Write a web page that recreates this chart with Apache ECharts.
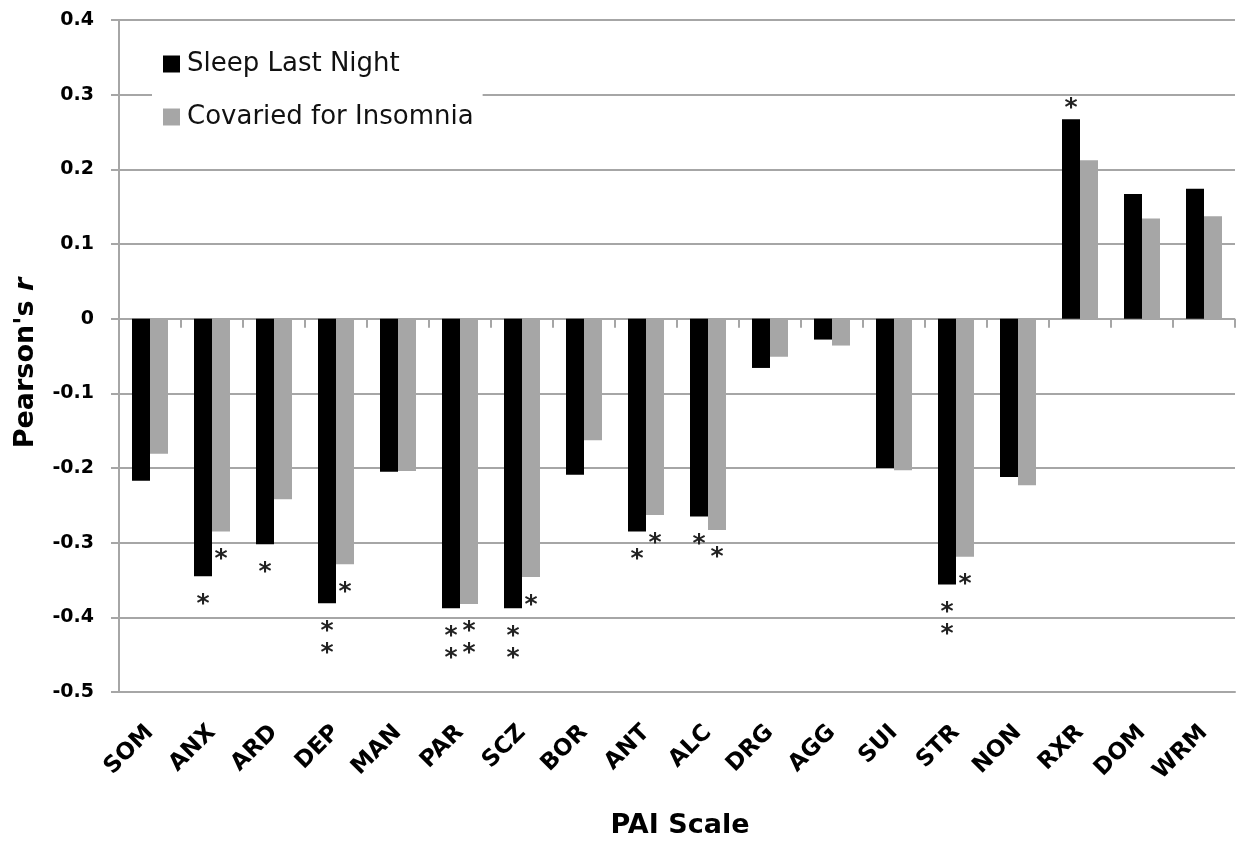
<!DOCTYPE html>
<html>
<head>
<meta charset="utf-8">
<style>
  html, body { margin: 0; padding: 0; background: #fff; }
  #chart { width: 1238px; height: 844px; }
</style>
<script src="https://cdn.jsdelivr.net/npm/echarts@6.0.0/dist/echarts.min.js"></script>
</head>
<body>
<div id="chart"></div>
<script>
// PAI scales
const categories = ["SOM", "ANX", "ARD", "DEP", "MAN", "PAR", "SCZ", "BOR", "ANT",
  "ALC", "DRG", "AGG", "SUI", "STR", "NON", "RXR", "DOM", "WRM"];
// Pearson's r values
const sleepLastNight = [-0.217, -0.345, -0.302, -0.381, -0.205, -0.388, -0.388, -0.209, -0.285,
  -0.265, -0.066, -0.028, -0.200, -0.356, -0.212, 0.267, 0.167, 0.174];
const covariedInsomnia = [-0.181, -0.285, -0.242, -0.329, -0.204, -0.382, -0.346, -0.163, -0.263,
  -0.283, -0.051, -0.036, -0.203, -0.319, -0.223, 0.212, 0.134, 0.137];
// significance stars
const sigSleep = ["", "*", "*", "**", "", "**", "**", "", "*", "*", "", "", "", "**", "", "*", "", ""];
const sigCovaried = ["", "*", "", "*", "", "**", "*", "", "*", "*", "", "", "", "*", "", "", "", ""];
const yTicks = [-0.5, 0.4, 0.1]; // min, max, step

const axisGrey = "#a6a6a6";
const font = "DejaVu Sans";

// stars go under negative bars, over positive ones
const withStars = (values) =>
  values.map((v) => ({
    value: v,
    label: { distance: v < 0 ? 17 : 0 },
  }));

const starLabel = (sig) => ({
  show: true,
  position: "outside",
  fontSize: 25,
  fontWeight: "bold",
  lineHeight: 22,
  color: "#222",
  fontFamily: font,
  formatter: function (p) {
    return sig[p.dataIndex].split("").join("\n");
  },
});

const option = {
  animation: false,
  backgroundColor: "#fff",
  grid: {
    left: 119,
    right: 3,
    top: 20,
    bottom: 152,
    containLabel: false,
    outerBoundsMode: "none",
  },
  legend: {
    orient: "vertical",
    left: 152,
    top: 39,
    padding: [10, 9, 10, 11],
    backgroundColor: "#fff",
    itemWidth: 17,
    itemHeight: 17,
    itemGap: 23,
    icon: "rect",
    textStyle: {
      fontFamily: font,
      fontSize: 26,
      lineHeight: 30,
      color: "#111",
      padding: [0, 0, 0, 2],
    },
    data: ["Sleep Last Night", "Covaried for Insomnia"],
  },
  xAxis: [
    {
      type: "category",
      data: categories,
      position: "bottom",
      axisLine: { onZero: false, lineStyle: { color: axisGrey, width: 2 } },
      axisTick: { show: false },
      axisLabel: {
        interval: 0,
        rotate: 45,
        margin: 37,
        fontFamily: font,
        fontWeight: "bold",
        fontSize: 23,
        color: "#000",
      },
      name: "PAI Scale",
      nameLocation: "middle",
      nameGap: 120,
      nameTextStyle: {
        fontFamily: font,
        fontWeight: "bold",
        fontSize: 27,
        color: "#000",
        padding: [0, 0, 0, 6],
      },
    },
    {
      type: "category",
      data: categories,
      position: "top",
      axisLine: { show: false, onZero: true },
      axisTick: { show: true, inside: true, length: 9, lineStyle: { color: axisGrey, width: 2 } },
      axisLabel: { show: false },
    },
  ],
  yAxis: {
    type: "value",
    min: yTicks[0],
    max: yTicks[1],
    interval: yTicks[2],
    axisLine: { show: true, lineStyle: { color: axisGrey, width: 2 } },
    axisTick: { show: true, length: 8, lineStyle: { color: axisGrey, width: 2 } },
    splitLine: { lineStyle: { color: axisGrey, width: 2 } },
    axisLabel: {
      margin: 25,
      fontFamily: font,
      fontWeight: "bold",
      fontSize: 19,
      color: "#000",
      formatter: function (v) {
        return String(Math.round(v * 10) / 10);
      },
    },
    name: "{a|Pearson's }{b|r}",
    nameLocation: "middle",
    nameGap: 80,
    nameTextStyle: {
      fontFamily: font,
      fontWeight: "bold",
      fontSize: 27,
      color: "#000",
      padding: [0, 14, 0, 0],
      rich: {
        a: { fontFamily: font, fontWeight: "bold", fontSize: 27, color: "#000" },
        b: { fontFamily: font, fontWeight: "bold", fontStyle: "italic", fontSize: 27, color: "#000" },
      },
    },
  },
  series: [
    {
      name: "Sleep Last Night",
      type: "bar",
      xAxisIndex: 0,
      data: withStars(sleepLastNight),
      barWidth: 18,
      barGap: "0%",
      itemStyle: { color: "#000" },
      label: starLabel(sigSleep),
    },
    {
      name: "Covaried for Insomnia",
      type: "bar",
      xAxisIndex: 0,
      data: withStars(covariedInsomnia),
      barWidth: 18,
      barGap: "0%",
      itemStyle: { color: "#a6a6a6" },
      label: starLabel(sigCovaried),
    },
  ],
};

var chartDom = document.getElementById("chart");
var myChart = echarts.init(chartDom);
option && myChart.setOption(option);
</script>
</body>
</html>
